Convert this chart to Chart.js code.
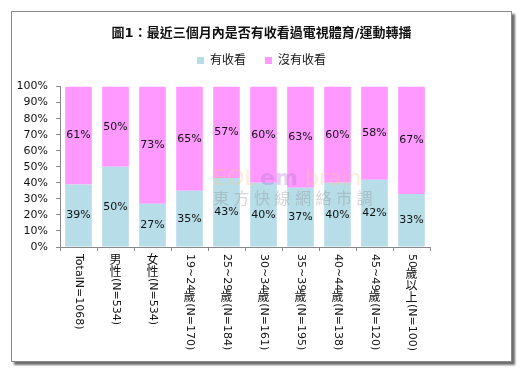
<!DOCTYPE html>
<html>
<head>
<meta charset="utf-8">
<script src="https://cdn.jsdelivr.net/npm/chart.js@4.4.1/dist/chart.umd.min.js"></script>
<style>
  html, body { margin: 0; padding: 0; background: #fff; }
  #frame { position: absolute; left: 11px; top: 11px; width: 499px; height: 349px;
           border: 1px solid #8a8a8a; box-shadow: 3px 3px 2px #6e6e6e; background: #fff; }
  #wrap { position: absolute; left: 0; top: 0; width: 523px; height: 373px; }
</style>
</head>
<body>
<div id="frame"></div>
<div id="wrap"><canvas id="c" width="523" height="373"></canvas></div>
<script>
const categories = ['TotalN=1068)', '男性(N=534)', '女性(N=534)', '19~24歲(N=170)', '25~29歲(N=184)',
  '30~34歲(N=161)', '35~39歲(N=195)', '40~44歲(N=138)', '45~49歲(N=120)', '50歲以上(N=100)'];
const watched = [39, 50, 27, 35, 43, 40, 37, 40, 42, 33];
const notWatched = [61, 50, 73, 65, 57, 60, 63, 60, 58, 67];
const seriesNames = ['有收看', '沒有收看'];
const yTicks = [0, 10, 20, 30, 40, 50, 60, 70, 80, 90, 100];
const titleText = '圖1：最近三個月內是否有收看過電視體育/運動轉播';

const FONT = '"DejaVu Sans", "Noto Sans CJK TC", sans-serif';

const legendMargin = {
  id: 'legendMargin',
  beforeInit(chart) {
    const orig = chart.legend.fit;
    chart.legend.fit = function () { orig.call(this); this.height += 10; };
  }
};

const valueLabels = {
  id: 'valueLabels',
  afterDatasetsDraw(chart) {
    const ctx = chart.ctx;
    ctx.save();
    ctx.font = '11px ' + FONT;
    ctx.fillStyle = '#111';
    ctx.textAlign = 'center';
    ctx.textBaseline = 'middle';
    chart.data.datasets.forEach((ds, di) => {
      const meta = chart.getDatasetMeta(di);
      meta.data.forEach((el, i) => {
        const p = el.getProps(['x', 'y', 'base'], true);
        ctx.fillText(ds.data[i] + '%', p.x, (p.y + p.base) / 2);
      });
    });
    // faint watermark
    ctx.globalAlpha = 0.35;
    ctx.textAlign = 'left';
    ctx.textBaseline = 'alphabetic';
    ctx.font = '22px "DejaVu Sans", sans-serif';
    ctx.fillStyle = '#ffc98a';
    ctx.fillText('EOL', 213, 185);
    ctx.font = 'bold 22px "DejaVu Sans", sans-serif';
    ctx.fillStyle = '#b07ad0';
    ctx.fillText('em', 260, 185);
    ctx.font = '22px "DejaVu Sans", sans-serif';
    ctx.fillStyle = '#ffc98a';
    ctx.fillText('brain', 305, 185);
    ctx.font = '16px "Noto Sans CJK TC", sans-serif';
    ctx.fillStyle = '#8a8a8a';
    const wm = '東方快線網絡市調';
    for (let k = 0; k < wm.length; k++) ctx.fillText(wm[k], 213 + k * 20.5, 204);
    ctx.restore();
  }
};

const verticalXLabels = {
  id: 'verticalXLabels',
  afterDraw(chart) {
    const ctx = chart.ctx;
    const xs = chart.scales.x;
    const isCJK = ch => /[\u3000-\u9fff\uff00-\uffef]/.test(ch);
    ctx.save();
    ctx.font = '11px ' + FONT;
    ctx.fillStyle = '#111';
    categories.forEach((lab, i) => {
      const x = xs.getPixelForTick(i);
      let y = xs.top + 7;
      let run = '';
      const flush = () => {
        if (!run) return;
        ctx.save();
        ctx.translate(x, y);
        ctx.rotate(Math.PI / 2);
        ctx.textAlign = 'left';
        ctx.textBaseline = 'middle';
        ctx.fillText(run, 0, 0);
        ctx.restore();
        y += ctx.measureText(run).width;
        run = '';
      };
      for (const ch of lab) {
        if (isCJK(ch)) {
          flush();
          ctx.save();
          ctx.font = '12px "Noto Sans CJK TC", sans-serif';
          ctx.textAlign = 'center';
          ctx.textBaseline = 'top';
          ctx.fillText(ch, x, y - 1);
          ctx.restore();
          y += 12;
        } else {
          run += ch;
        }
      }
      flush();
    });
    ctx.restore();
  }
};

new Chart(document.getElementById('c'), {
  type: 'bar',
  data: {
    labels: categories,
    datasets: [
      { label: seriesNames[0], data: watched, backgroundColor: '#b7dde8', borderWidth: 0 },
      { label: seriesNames[1], data: notWatched, backgroundColor: '#ff99ff', borderWidth: 0 }
    ]
  },
  options: {
    responsive: false,
    animation: false,
    layout: { padding: { left: 10, right: 10, top: 0, bottom: 0 } },
    scales: {
      x: {
        stacked: true,
        barPercentage: 0.73,
        categoryPercentage: 1,
        grid: { display: true, drawOnChartArea: false, offset: true, color: '#888', tickLength: 4, tickColor: '#888' },
        border: { color: '#888', width: 1 },
        ticks: { display: false },
        afterFit(s) { s.height = 126; }
      },
      y: {
        stacked: true,
        min: 0, max: 100,
        afterBuildTicks(s) { s.ticks = yTicks.map(v => ({ value: v })); },
        grid: { display: true, drawOnChartArea: false, color: '#888', tickLength: 4, tickColor: '#888' },
        border: { color: '#888', width: 1 },
        ticks: {
          color: '#111', padding: 8, autoSkip: false,
          font: { family: FONT, size: 11 },
          callback: v => v + '%'
        },
        afterFit(s) { s.width = 50; }
      },
      spacer: {
        type: 'linear', position: 'right', display: true,
        grid: { display: false, drawTicks: false }, border: { display: false },
        ticks: { display: false },
        afterFit(s) { s.width = 83; }
      }
    },
    plugins: {
      title: {
        display: true, text: titleText, color: '#111',
        font: { family: FONT, size: 13, weight: 'bold' },
        padding: { top: 26, bottom: -6 }
      },
      legend: {
        display: true,
        labels: {
          boxWidth: 7, boxHeight: 7, padding: 19, color: '#111',
          font: { family: FONT, size: 12 }
        }
      },
      tooltip: { enabled: false }
    }
  },
  plugins: [legendMargin, valueLabels, verticalXLabels]
});
</script>
</body>
</html>
